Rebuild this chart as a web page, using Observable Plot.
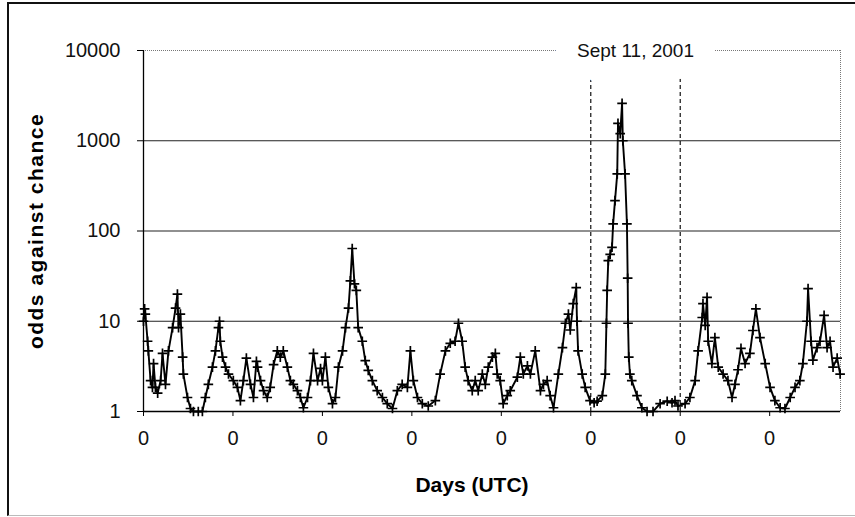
<!DOCTYPE html>
<html>
<head>
<meta charset="utf-8">
<script src="https://cdn.jsdelivr.net/npm/d3@7"></script>
<script src="https://cdn.jsdelivr.net/npm/@observablehq/plot@0.6"></script>
<style>
  html, body { margin: 0; padding: 0; background: #fff; overflow: hidden; }
  #wrap { position: relative; width: 855px; height: 517px; }
  #border { position: absolute; left: 7px; top: 2px; width: 900px; height: 511px;
            border-left: 2px solid #111; border-top: 2px solid #111; border-bottom: 1px solid #bbb;
            pointer-events: none; }
</style>
</head>
<body>
<div id="wrap"><div id="border"></div></div>
<script>
// Readings: [hour since start, odds against chance]
const series = [
  [0,10],[0.3,13.7],[0.5,12],[1.1,6],[1.3,4.7],[1.9,2.2],[2.4,1.85],[2.7,3.4],[3.2,1.85],[3.8,1.6],
  [4.6,2.2],[5.1,4.4],[5.9,2.0],[6.7,4.7],[7.8,8.5],[8.6,14],[9.1,20],[9.4,8.5],[9.9,12],[10.5,4],
  [10.7,2.6],[11.8,1.43],[12.6,1.08],[13.4,1.0],[14.7,1.0],[15.8,1.0],[16.6,1.43],[17.4,2.0],[18.5,3.1],[19.3,4.7],
  [20.1,8.5],[20.4,10],[20.6,6],[21.2,4],[22.0,3.1],[22.8,2.6],[24.1,2.2],[25.2,1.85],[26.0,1.32],[26.8,2.2],
  [27.6,3.9],[28.7,2.0],[29.5,1.43],[30.3,3.6],[30.6,3.1],[31.4,2.2],[32.2,1.7],[33.2,1.43],[34.0,1.85],[34.9,3.3],
  [35.9,4.7],[36.7,4.0],[37.5,4.7],[38.6,3.1],[39.4,2.2],[40.2,2.0],[41.3,1.7],[42.1,1.43],[42.9,1.1],[44.0,1.43],
  [44.8,2.2],[45.6,4.4],[46.7,2.2],[47.5,3.0],[48.0,2.2],[48.8,4.0],[49.6,1.85],[50.7,1.22],[51.5,1.43],[52.3,3.1],
  [53.4,4.7],[54.2,8.5],[55.0,14],[55.5,28],[56.0,64],[56.6,26],[57.1,22],[57.6,8.5],[58.7,6],[59.5,3.67],
  [60.3,2.85],[61.4,2.2],[62.7,1.7],[64.1,1.43],[65.4,1.22],[66.8,1.08],[68.1,1.7],[69.4,2.0],[70.8,1.85],[71.6,4.7],
  [72.4,2.2],[73.5,1.43],[74.8,1.22],[76.4,1.15],[78.3,1.32],[79.6,2.6],[81.0,4.7],[82.3,5.7],[83.6,6],[84.5,9.5],
  [85.5,6],[86.3,3.1],[87.1,2.2],[88.2,1.7],[89.0,2.2],[89.8,1.7],[90.9,2.6],[91.7,2.0],[92.5,3.1],[93.6,4.0],
  [94.4,4.4],[94.9,2.6],[95.7,2.2],[96.5,1.22],[97.6,1.5],[98.4,1.7],[100.3,2.4],[101.1,4],[101.9,2.6],[103.0,3.2],
  [103.8,2.6],[105.1,4.7],[106.5,1.7],[107.3,2.0],[108.3,2.2],[109.1,1.5],[110.0,1.1],[111.3,2.6],[112.4,5.1],[113.2,9.5],
  [114.0,12],[114.5,8],[115.3,15.7],[116.1,23.6],[116.3,10],[116.6,4.7],[117.7,2.6],[118.5,1.85],[119.8,1.32],[120.9,1.25],
  [121.7,1.3],[123.1,1.5],[123.9,2.6],[124.2,9.5],[124.4,22],[124.7,47],[125.2,55],[125.7,66],[126.0,120],[126.5,217],
  [127.1,430],[127.3,1560],[127.9,1200],[128.4,2600],[128.6,1000],[129.2,430],[129.7,120],[129.9,30],[130.0,9.5],[130.2,4],
  [130.5,2.6],[131.0,2.2],[132.4,1.5],[133.7,1.1],[135.1,1.0],[136.7,1.0],[138.6,1.22],[140.5,1.3],[141.8,1.25],[142.6,1.32],
  [143.4,1.15],[145.3,1.22],[146.6,1.43],[148.0,2.2],[148.8,4.7],[149.9,11],[150.1,15.7],[150.7,9],[151.2,18.4],[151.5,6],
  [152.5,3.4],[153.3,6.6],[154.2,3.1],[155.5,2.6],[156.8,2.2],[157.9,1.43],[158.7,2.0],[159.5,2.9],[160.3,5.0],[161.4,3.4],
  [162.7,4.4],[163.5,7.9],[164.3,13.7],[165.4,6.6],[166.8,3.4],[168.1,1.85],[169.4,1.32],[170.8,1.1],[172.1,1.08],[173.5,1.43],
  [174.8,1.85],[176.1,2.2],[176.9,3.4],[178.0,10],[178.3,23],[179.1,6],[179.6,3.7],[180.7,5.1],[181.5,6],[182.6,11.6],
  [183.4,5.1],[184.2,6],[185.0,3.1],[186.1,3.9],[186.9,2.6]
];
const xDomain = [0, 187];
const dayTicks = [0, 24, 48, 72, 96, 120, 144, 168];
const dayTickLabels = ["0", "0", "0", "0", "0", "0", "0", "0"];
const yDomain = [1, 10000];
const yTicks = [1, 10, 100, 1000, 10000];
const gridLines = [10, 100, 1000];
const sept11Bounds = [120, 144];
const sept11Label = "Sept 11, 2001";
const yTitle = "odds against chance";
const xTitle = "Days (UTC)";

const data = series.map(([h, v]) => ({h, v}));
const font = "'Liberation Sans', Arial, sans-serif";

const chart = Plot.plot({
  width: 855,
  height: 517,
  marginLeft: 143,
  marginRight: 15,
  marginTop: 50,
  marginBottom: 106,
  style: {fontFamily: font, background: "transparent", color: "#111", overflow: "visible"},
  x: {domain: xDomain, label: null},
  y: {type: "log", domain: yDomain, label: null},
  marks: [
    Plot.ruleY(gridLines, {stroke: "#222", strokeWidth: 1.2}),
    Plot.ruleY([yDomain[1]], {stroke: "#777", strokeDasharray: "1,1"}),
    Plot.ruleX([xDomain[1]], {stroke: "#777", strokeDasharray: "1,1"}),
    Plot.ruleX(sept11Bounds, {y1: yDomain[0], y2: 6000, stroke: "#111", strokeDasharray: "4,3", strokeWidth: 1.2}),
    Plot.line(data, {x: "h", y: "v", stroke: "#000", strokeWidth: 1.9}),
    Plot.dot(data, {x: "h", y: "v", symbol: "plus", r: 3.2, stroke: "#000", strokeWidth: 1.7}),
    Plot.ruleX([xDomain[0]], {stroke: "#000", strokeWidth: 1.3}),
    Plot.ruleY([yDomain[0]], {stroke: "#000", strokeWidth: 1.3}),
    Plot.axisY({ticks: yTicks, tickFormat: d => String(d), tickSize: 6, tickPadding: 17, fontSize: 20, label: null, stroke: "#000"}),
    Plot.axisX({ticks: dayTicks, tickFormat: (d, i) => dayTickLabels[i], tickSize: 5, tickPadding: 14, fontSize: 20, label: null, stroke: "#000"}),
    Plot.text([sept11Label], {x: [(sept11Bounds[0] + sept11Bounds[1]) / 2], frameAnchor: "top", lineAnchor: "middle",
      text: d => d, fontSize: 19, fill: "#111", stroke: "#fff", strokeWidth: 44, strokeLinejoin: "round"}),
    Plot.text([yTitle], {frameAnchor: "left", rotate: -90, dx: -107, textAnchor: "middle", lineAnchor: "middle", text: d => d,
      fontSize: 21, fontWeight: "bold", fill: "#000"}),
    Plot.text([xTitle], {frameAnchor: "bottom", dx: -20, dy: 74, textAnchor: "middle", lineAnchor: "middle", text: d => d,
      fontSize: 21, fontWeight: "bold", fill: "#000"})
  ]
});

d3.select(chart).selectAll("text").filter(function() { return this.textContent === yTitle; })
  .attr("letter-spacing", "1.5px");
document.getElementById("wrap").insertBefore(chart, document.getElementById("border"));
</script>
</body>
</html>
